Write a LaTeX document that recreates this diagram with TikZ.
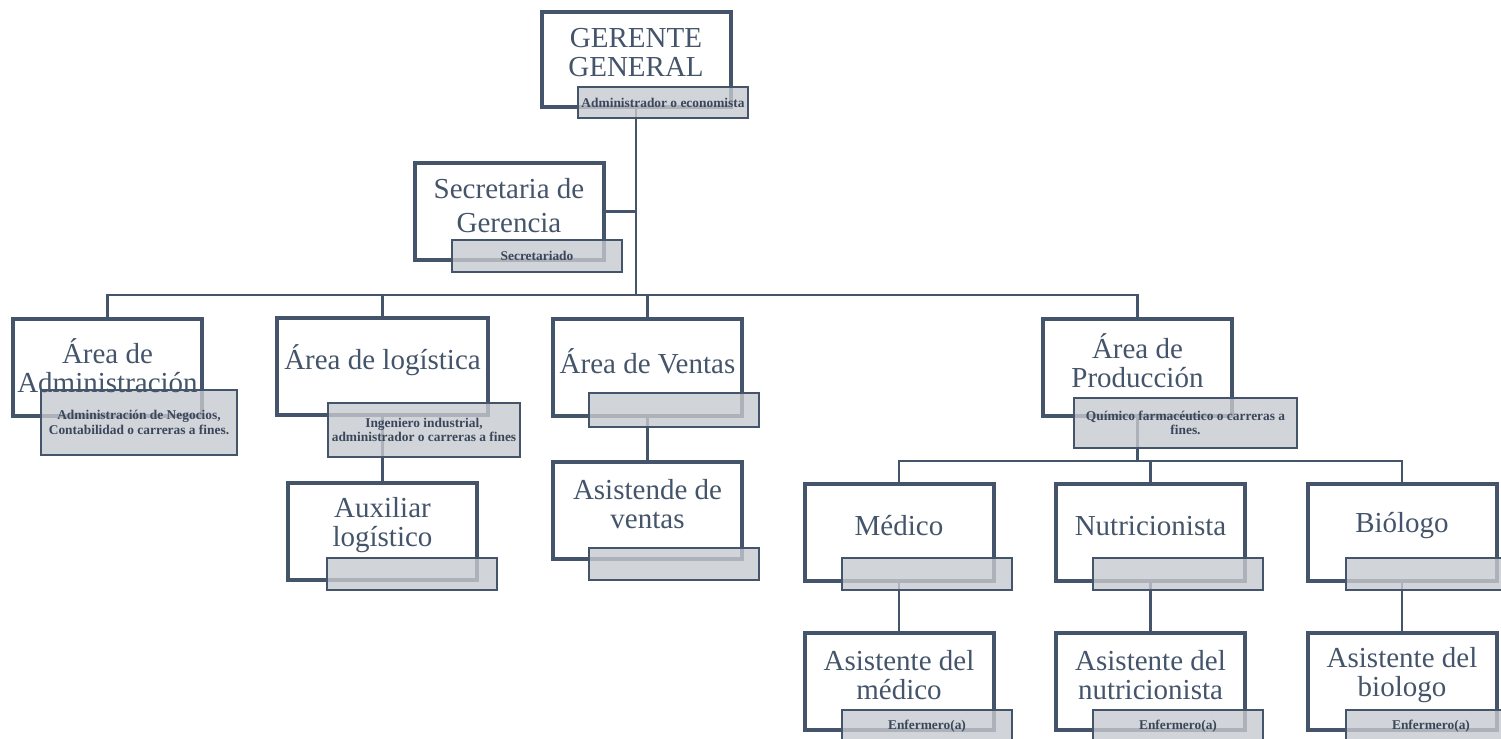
\documentclass[tikz,border=0pt]{standalone}
\usepackage{fontspec}
\setmainfont{Liberation Serif}
\definecolor{pizarra}{HTML}{44546A}
\definecolor{gris}{HTML}{C6C9CF}
\tikzset{
	puesto/.style={draw=pizarra, line width=2pt, minimum width=94.5pt, minimum height=48.5pt, inner sep=0pt},
	titulo/.style={text=pizarra, align=center, inner sep=0pt, font=\fontsize{14.5}{14.5}\selectfont},
	perfil/.style={draw=pizarra, line width=1pt, fill=gris, fill opacity=0.8, text opacity=1, text=pizarra!85!black, align=center, inner sep=0pt, minimum width=85pt, minimum height=16pt, font=\bfseries\fontsize{6.7}{7.2}\selectfont},
	enlace/.style={draw=pizarra, line width=1.2pt},
}

\begin{document}
\begin{tikzpicture}[x=0.5pt,y=-0.5pt]
	%%%%% START %%%%%
	\useasboundingbox (0,0) rectangle (1501,739);
	\clip (0,0) rectangle (1501,739);

	% cajas
	\node[puesto, minimum height=47.5pt] (ger) at (636,59.5) {};
	\node[puesto] (sec) at (509,211.5) {};
	\node[puesto] (adm) at (107.5,367) {};
	\node[puesto, minimum width=105.5pt] (log) at (382.5,366.5) {};
	\node[puesto] (ven) at (647.5,367) {};
	\node[puesto] (pro) at (1137.5,367) {};
	\node[puesto] (aux) at (382.5,531.5) {};
	\node[puesto] (asv) at (647.5,510) {};
	\node[puesto] (med) at (899,532) {};
	\node[puesto] (nut) at (1150.5,532) {};
	\node[puesto] (bio) at (1402,532) {};
	\node[puesto] (amed) at (899,681.5) {};
	\node[puesto] (anut) at (1150.5,681.5) {};
	\node[puesto] (abio) at (1402,681.5) {};

	\coordinate (barra) at (0,295);
	\coordinate (barra2) at (0,461);

	% enlaces
	\draw[enlace] (ger.south) -- (ger.south |- barra);
	\draw[enlace] (sec.east) -- (sec.east -| ger.south);
	\draw[enlace] (adm.north) -- (adm.north |- barra) -- (pro.north |- barra) -- (pro.north);
	\draw[enlace] (log.north) -- (log.north |- barra);
	\draw[enlace] (ven.north) -- (ven.north |- barra);
	\draw[enlace] (log.south) -- (aux.north);
	\draw[enlace] (ven.south) -- (asv.north);
	\draw[enlace] (pro.south) -- (pro.south |- barra2);
	\draw[enlace] (med.north) -- (med.north |- barra2) -- (bio.north |- barra2) -- (bio.north);
	\draw[enlace] (nut.north) -- (nut.north |- barra2);
	\draw[enlace] (med.south) -- (amed.north);
	\draw[enlace] (nut.south) -- (anut.north);
	\draw[enlace] (bio.south) -- (abio.north);

	% perfiles
	\node[perfil, minimum height=15.5pt] (ger-p) at (663,102.5) {Administrador o economista};
	\node[perfil] (sec-p) at (537,256) {Secretariado};
	\node[perfil, minimum width=98pt, minimum height=32.5pt] (adm-p) at (139,422.5) {Administración de Negocios,\\Contabilidad o carreras a fines.};
	\node[perfil, minimum width=96pt, minimum height=27pt] (log-p) at (424,430) {Ingeniero industrial,\\administrador o carreras a fines};
	\node[perfil, minimum height=17pt] (ven-p) at (674,410) {};
	\node[perfil, minimum width=111.5pt, minimum height=25pt] (pro-p) at (1185.5,423) {Químico farmacéutico o carreras a\\fines.};
	\node[perfil] (aux-p) at (412,574) {};
	\node[perfil] (asv-p) at (674,564) {};
	\node[perfil] (med-p) at (927,574) {};
	\node[perfil] (nut-p) at (1178,574) {};
	\node[perfil] (bio-p) at (1431,574) {};
	\node[perfil] (amed-p) at (927,726) {Enfermero(a)};
	\node[perfil] (anut-p) at (1178,726) {Enfermero(a)};
	\node[perfil] (abio-p) at (1431,726) {Enfermero(a)};

	% titulos
	\node[titulo] (ger-t) at ([yshift=3.5pt]ger.center) {GERENTE\\GENERAL};
	\node[titulo, font=\fontsize{14.5}{17}\selectfont] (sec-t) at ([yshift=3pt]sec.center) {Secretaria de\\Gerencia};
	\node[titulo] (adm-t) at ([yshift=0.5pt]adm.center) {Área de\\Administración};
	\node[titulo] (log-t) at ([yshift=3pt]log.center) {Área de logística};
	\node[titulo] (ven-t) at ([yshift=3pt]ven.center) {Área de Ventas};
	\node[titulo] (pro-t) at ([yshift=3pt]pro.center) {Área de\\Producción};
	\node[titulo] (aux-t) at ([yshift=3pt]aux.center) {Auxiliar\\logístico};
	\node[titulo] (asv-t) at ([yshift=3pt]asv.center) {Asistende de\\ventas};
	\node[titulo] (med-t) at ([yshift=3pt]med.center) {Médico};
	\node[titulo] (nut-t) at ([yshift=3pt]nut.center) {Nutricionista};
	\node[titulo] (bio-t) at ([yshift=3pt]bio.center) {Biólogo};
	\node[titulo] (amed-t) at ([yshift=3pt]amed.center) {Asistente del\\médico};
	\node[titulo] (anut-t) at ([yshift=3pt]anut.center) {Asistente del\\nutricionista};
	\node[titulo] (abio-t) at ([yshift=3pt]abio.center) {Asistente del\\biologo};

	%%%%% END %%%%%
\end{tikzpicture}
\end{document}
